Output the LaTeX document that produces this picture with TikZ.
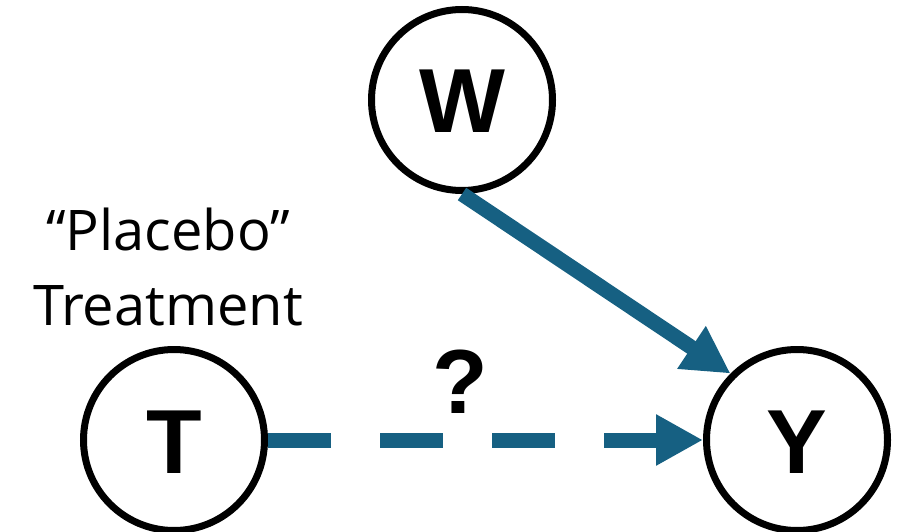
\documentclass[tikz,border=0pt]{standalone}
\usepackage{fontspec}
\setmainfont{Liberation Sans}
\newfontfamily\labelfont{Open Sans}
\usetikzlibrary{arrows.meta}
\definecolor{edgeblue}{RGB}{22,96,130}
\begin{document}
\begin{tikzpicture}[x=1pt,y=-1pt,
  var/.style={circle,draw=black,line width=7pt,minimum size=181pt,inner sep=0pt,fill=white},
  letter/.style={font=\fontsize{91}{91}\selectfont\bfseries},
  edge/.style={draw=edgeblue,line width=15pt,-{Triangle[length=47pt,width=48pt]}}]
\useasboundingbox (0,0) rectangle (902,532);
\node[var] (W) at (462,100) {};
\node[var] (T) at (174,440) {};
\node[var] (Y) at (797,440) {};
\path[edge] (W.south) -- (Y.135);
\path[edge,dash pattern=on 63pt off 49pt] (T.east) -- (Y.west);
\node[letter,anchor=base] (Wl) at (462,133) {W};
\node[letter,anchor=base] (Tl) at (174,473) {T};
\node[letter,anchor=base] (Yl) at (797,473) {Y};
\node[letter,anchor=base] (q) at (460,413) {?};
\node[font=\labelfont\fontsize{56}{75}\selectfont,align=center,anchor=base] (lab) at (168,325) {“Placebo”\\Treatment};
\end{tikzpicture}
\end{document}
